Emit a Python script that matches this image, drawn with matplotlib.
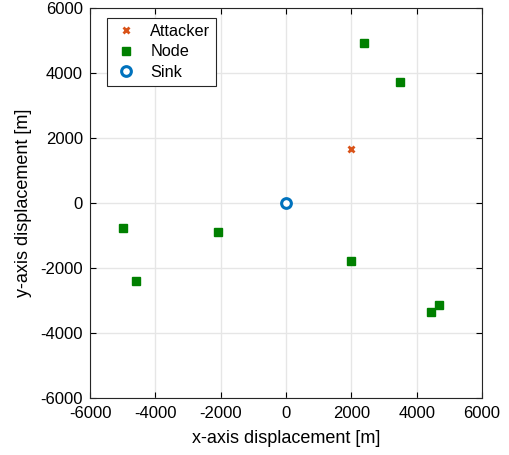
import matplotlib
matplotlib.use('Agg')
import matplotlib.pyplot as plt

plt.rcParams['font.family'] = ['Liberation Sans', 'DejaVu Sans']
plt.rcParams['axes.unicode_minus'] = False

attacker_x = [2000]
attacker_y = [1660]
node_x = [2400, 3500, -4980, -4580, -2070, 1990, 4680, 4430]
node_y = [4930, 3710, -770, -2390, -890, -1785, -3130, -3345]
sink_x = [0]
sink_y = [0]
ticks = [-6000, -4000, -2000, 0, 2000, 4000, 6000]

fig = plt.figure(figsize=(5.1, 4.55), dpi=100)
ax = fig.add_axes([0.1765, 0.1253, 0.7686, 0.8571])

ax.plot(attacker_x, attacker_y, 'x', color='#D95319', markersize=5, mew=2, label='Attacker')
ax.plot(node_x, node_y, 's', color='#008000', markersize=5.5, label='Node')
ax.plot(sink_x, sink_y, 'o', color='#0072BD', mfc='white', markersize=7, mew=2.2, label='Sink')

ax.set_xlim(-6000, 6000)
ax.set_ylim(-6000, 6000)
ax.set_xticks(ticks)
ax.set_yticks(ticks)
ax.tick_params(direction='in', labelsize=12, length=4, top=True, right=True)
ax.tick_params(axis='x', pad=6)
ax.tick_params(axis='y', pad=5)
ax.grid(True, color='#e6e6e6', linewidth=1)
ax.set_axisbelow(True)
for s in ax.spines.values():
    s.set_linewidth(0.8)
    s.set_color('#262626')
ax.set_xlabel('x-axis displacement [m]', fontsize=13, labelpad=6)
ax.set_ylabel('y-axis displacement [m]', fontsize=13, labelpad=6)

lg = ax.legend(loc='upper left', bbox_to_anchor=(0.023, 0.995), fontsize=11.7, fancybox=False,
               edgecolor='#262626', framealpha=1, handletextpad=0.7, borderpad=0.35,
               labelspacing=0.35, handlelength=1.6)
lg.get_frame().set_linewidth(0.8)

fig.savefig('out.png', dpi=100)
